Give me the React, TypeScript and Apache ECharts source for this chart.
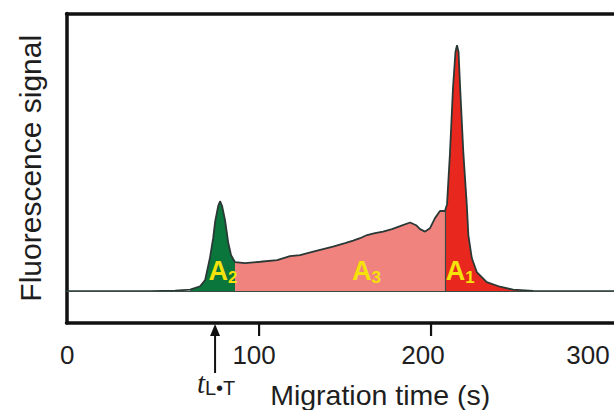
import React, { useEffect, useRef } from "react";
import * as echarts from "echarts";

// Migration time (s) and fluorescence signal (arbitrary units, main peak ≈ 100)
const migrationTime = [
  -12, 36.6, 51.2, 59.9, 65.7, 68.6, 71.5, 73.3, 74.4, 76.2, 77.3, 78.5, 80.2, 82, 83.7, 86,
  91.9, 100.6, 110.5, 118, 123.8, 132.6, 143, 150, 154.7, 158.7, 162.8, 167.4, 172.1, 177.3,
  182, 187.8, 191.3, 193.6, 196.5, 199.4, 202.3, 205.2, 208.1, 209.3, 211, 212.8, 214.2,
  215.1, 216, 216.9, 218.8, 220.8, 221.7, 223.7, 226.6, 232.4, 240.1, 247.7, 259.3, 306.4,
];
const signal = [
  0, 0, 0.2, 0.6, 2.0, 4.5, 13.9, 21.6, 28.2, 34.7, 36.7, 34.7, 29, 20, 14.7, 11.8,
  11.4, 12, 12.7, 14.3, 14.7, 16.3, 18.2, 19.6, 20.6, 21.6, 22.9, 23.7, 24.3, 25.3,
  26.5, 28, 26.9, 25.3, 24.3, 25.7, 29.8, 32.7, 32.7, 35.5, 56.3, 83.3, 97.6,
  100.4, 97.6, 83.3, 56.3, 35.1, 22.9, 13.5, 7.8, 3.7, 1.8, 0.6, 0.1, 0,
];

// Integration regions: A2 (green), A3 (pink), A1 (red)
const regionNames = ["A2", "A3", "A1"];
const regionStart = [55, 86, 208.1];
const regionEnd = [86, 208.1, 259.3];
const regionColors = ["#0a763c", "#f1837f", "#e8281e"];

// Region labels (data coordinates of label centres)
const labelSub = ["2", "3", "1"];
const labelT = [79, 162.5, 217];
const labelY = [8.4, 8.4, 8.4];

// Axis ticks
const xTickLabels = [0, 100, 200, 300];
const xTickMarks = [100, 200];
const tLT = 74.4; // arrow marking t_L•T

// style: horizontal nudge (px) of each tick label, as in the hand-made original
const labelNudge = [-20, -5, -8, -15];

const X_MIN = -12;
const X_MAX = 306.4;
const Y_MIN = -13;
const Y_MAX = 113.3;
const FONT = '"Liberation Sans", Arial, Helvetica, sans-serif';
const FRAME = { color: "#111", width: 3.5 };

export default function App() {
  const ref = useRef<HTMLDivElement>(null);
  useEffect(() => {
    if (!ref.current) return;
    const chart = echarts.init(ref.current, undefined, { renderer: "svg" });
    const curve = migrationTime.map((t, i) => [t, signal[i]]);

    const areaSeries = regionNames.map((name, k) => ({
      name,
      type: "line",
      data: curve.filter((p) => p[0] >= regionStart[k] && p[0] <= regionEnd[k]),
      showSymbol: false,
      symbol: "none",
      lineStyle: { width: 0 },
      areaStyle: { color: regionColors[k], opacity: 1 },
      z: 1,
    }));

    chart.setOption({
      animation: false,
      backgroundColor: "#ffffff",
      grid: { left: 66.5, top: 13.5, right: 0, bottom: 87, show: false, containLabel: false, outerBoundsMode: "none" },
      xAxis: [
        {
          type: "value",
          min: X_MIN,
          max: X_MAX,
          position: "bottom",
          name: "Migration time (s)",
          nameLocation: "middle",
          nameGap: 57,
          nameTextStyle: { fontSize: 28.5, fontFamily: FONT, color: "#1e1e1e", padding: [0, 0, 0, 80] },
          axisLine: { show: true, onZero: false, lineStyle: FRAME },
          splitLine: { show: false },
          axisTick: { show: true, inside: false, customValues: xTickMarks.slice(), length: 12, lineStyle: { color: "#111", width: 2 } },
          axisLabel: { show: false },
        },
        {
          type: "value",
          min: X_MIN,
          max: X_MAX,
          position: "top",
          axisLine: { show: true, onZero: false, lineStyle: FRAME },
          axisTick: { show: false },
          axisLabel: { show: false },
          splitLine: { show: false },
        },
      ],
      yAxis: {
        type: "value",
        min: Y_MIN,
        max: Y_MAX,
        name: "Fluorescence signal",
        nameLocation: "middle",
        nameGap: 21,
        nameTextStyle: { fontSize: 30, fontFamily: FONT, color: "#1e1e1e" },
        axisLine: { show: true, onZero: false, lineStyle: FRAME },
        axisTick: { show: false },
        axisLabel: { show: false },
        splitLine: { show: false },
      },
      series: [
        ...areaSeries,
        {
          name: "signal",
          type: "line",
          data: curve,
          showSymbol: false,
          symbol: "none",
          lineStyle: { color: "#2a3936", width: 1.8 },
          z: 3,
          markLine: {
            silent: true,
            symbol: "none",
            label: { show: false },
            lineStyle: { color: "#3a4a44", width: 1.2, type: "solid" },
            data: [
              [{ coord: [regionStart[2], 0] }, { coord: [regionStart[2], signal[migrationTime.indexOf(regionStart[2])]] }],
              [{ coord: [X_MIN, 0] }, { coord: [X_MAX, 0] }],
            ],
          },
          markPoint: {
            symbol: "circle",
            symbolSize: 0,
            silent: true,
            data: labelT.map((t, i) => ({ coord: [t, labelY[i]], value: labelSub[i] })),
            label: {
              show: true,
              position: "inside",
              formatter: (p: any) => `{a|A}{s|${p.value}}`,
              rich: {
                a: { fontSize: 27, fontWeight: "bold", fontFamily: FONT, color: "#f4e20a", lineHeight: 30, verticalAlign: "middle" },
                s: { fontSize: 17, fontWeight: "bold", fontFamily: FONT, color: "#f4e20a", lineHeight: 30, verticalAlign: "bottom" },
              },
            },
          },
        },
      ],
    });

    const toPx = (t: number, y: number) => chart.convertToPixel({ gridIndex: 0 }, [t, y]) as number[];
    const [ax, axisY] = toPx(tLT, Y_MIN);

    const tickGraphics = xTickMarks.map((v) => {
      const [px, py] = toPx(v, Y_MIN);
      return {
        type: "polygon",
        z: 1000,
        shape: { points: [[px - 1.1, py], [px + 1.1, py], [px + 1.1, py + 13], [px - 1.1, py + 13]] },
        style: { fill: "#111" },
      };
    });

    const labelGraphics = xTickLabels.map((v, i) => {
      const [px, py] = toPx(v, Y_MIN);
      return {
        type: "text",
        x: px + labelNudge[i],
        y: py + 32,
        style: {
          text: String(v),
          align: "center",
          verticalAlign: "middle",
          fontSize: 26,
          fontFamily: FONT,
          fill: "#1e1e1e",
        },
      };
    });

    chart.setOption({
      graphic: [
        ...labelGraphics,
        { type: "line", z: 100, shape: { x1: ax, y1: 373, x2: ax, y2: 332 }, style: { stroke: "#111", lineWidth: 2 } },
        { type: "polygon", z: 100, shape: { points: [[ax, axisY + 1], [ax - 5, axisY + 13], [ax + 5, axisY + 13]] }, style: { fill: "#111" } },
        {
          type: "text",
          x: ax + 1,
          y: 383,
          style: {
            text: "{t|t}{s|L•T}",
            align: "center",
            verticalAlign: "middle",
            rich: {
              t: { fontSize: 29, fontStyle: "italic", fontFamily: '"Liberation Serif", "Times New Roman", serif', fill: "#1e1e1e", lineHeight: 30, verticalAlign: "middle" },
              s: { fontSize: 20, fontFamily: FONT, fill: "#1e1e1e", lineHeight: 30, verticalAlign: "bottom" },
            },
          },
        },
        ...tickGraphics,
      ],
    });

    return () => chart.dispose();
  }, []);
  return <div ref={ref} style={{ position: "absolute", left: 0, top: 0, width: 614, height: 410 }} />;
}
